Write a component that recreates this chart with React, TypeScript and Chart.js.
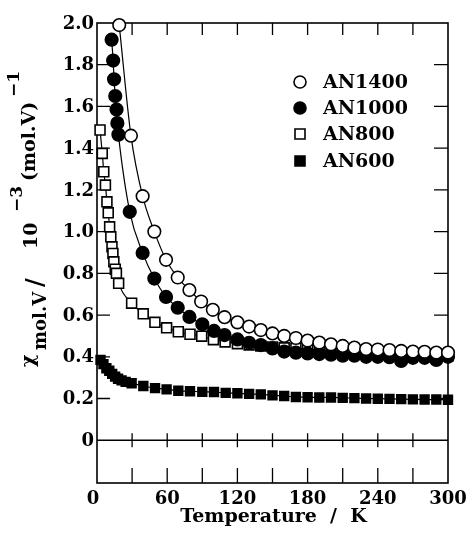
import React, { useEffect, useRef } from "react";
import { Chart, registerables } from "chart.js";

Chart.register(...registerables);

// ---- data ----
const an1400T = [19, 29, 39, 49, 59, 69, 79, 89, 99, 109, 120, 130, 140, 150, 160, 170, 180, 190, 200, 210, 220, 230, 240, 250, 260, 270, 280, 290, 300];
const an1400V = [1.99, 1.46, 1.17, 1.0, 0.865, 0.78, 0.72, 0.665, 0.625, 0.59, 0.565, 0.545, 0.528, 0.512, 0.5, 0.49, 0.478, 0.468, 0.46, 0.452, 0.444, 0.437, 0.435, 0.432, 0.428, 0.425, 0.424, 0.42, 0.42];

const an1000T = [12.5, 13.8, 14.6, 15.6, 16.7, 17.4, 18.3, 28, 39, 49, 59, 69, 79, 90, 100, 109, 120, 130, 140, 150, 160, 170, 180, 190, 200, 210, 220, 230, 240, 250, 260, 270, 280, 290, 300];
const an1000V = [1.92, 1.82, 1.73, 1.65, 1.585, 1.52, 1.465, 1.095, 0.898, 0.775, 0.687, 0.635, 0.591, 0.556, 0.524, 0.504, 0.483, 0.467, 0.456, 0.44, 0.425, 0.42, 0.416, 0.413, 0.41, 0.405, 0.405, 0.4, 0.4, 0.398, 0.38, 0.395, 0.395, 0.385, 0.4];

const an800T = [2.6, 4.5, 5.8, 7.2, 8.5, 9.6, 10.8, 11.8, 12.8, 13.6, 14.4, 15.6, 16.6, 18.5, 29.6, 39.5, 49.5, 59.5, 69.5, 79.5, 89.5, 99.5, 109.5, 120, 130, 140, 150, 160, 170, 180, 190, 200, 210, 220, 230, 240, 250, 260, 270, 280, 290, 300];
const an800V = [1.487, 1.375, 1.287, 1.223, 1.143, 1.09, 1.023, 0.975, 0.927, 0.895, 0.855, 0.82, 0.8, 0.752, 0.657, 0.606, 0.565, 0.539, 0.52, 0.508, 0.499, 0.482, 0.471, 0.463, 0.457, 0.452, 0.447, 0.443, 0.44, 0.436, 0.432, 0.428, 0.425, 0.422, 0.42, 0.418, 0.415, 0.413, 0.41, 0.41, 0.408, 0.405];

const an600T = [3, 5.5, 8, 10.5, 13, 15.5, 18, 21, 24.5, 29.6, 39.6, 49.6, 59.5, 69.5, 79.5, 90, 100, 110, 120, 130, 140, 150, 160, 170, 180, 190, 200, 210, 220, 230, 240, 250, 260, 270, 280, 290, 300];
const an600V = [0.385, 0.365, 0.345, 0.333, 0.318, 0.305, 0.295, 0.287, 0.28, 0.273, 0.26, 0.25, 0.244, 0.237, 0.235, 0.232, 0.231, 0.227, 0.225, 0.222, 0.22, 0.215, 0.212, 0.207, 0.206, 0.205, 0.205, 0.203, 0.202, 0.2, 0.199, 0.198, 0.197, 0.196, 0.195, 0.195, 0.194];

const seriesNames = ["AN1400", "AN1000", "AN800", "AN600"];

const xTickValues = [0, 30, 60, 90, 120, 150, 180, 210, 240, 270, 300];
const xLabelValues = [0, 60, 120, 180, 240, 300];
const yTickValues = [0, 0.2, 0.4, 0.6, 0.8, 1.0, 1.2, 1.4, 1.6, 1.8, 2.0];
const yTickLabels = ["0", "0.2", "0.4", "0.6", "0.8", "1.0", "1.2", "1.4", "1.6", "1.8", "2.0"];

const xTitle = "Temperature  /  K";

const FONT = '"DejaVu Serif", "Liberation Serif", serif';
const font = (s: number) => `bold ${s}px ${FONT}`;

const pts = (t: number[], v: number[]) => t.map((x, i) => ({ x, y: v[i] }));

const styles = [
  { pointStyle: "circle", bg: "#ffffff", radius: 6.3 },
  { pointStyle: "circle", bg: "#000000", radius: 6.3 },
  { pointStyle: "rect", bg: "#ffffff", radius: 7 },
  { pointStyle: "rect", bg: "#000000", radius: 6.2 },
];

const framePlugin = {
  id: "frame",
  beforeDatasetsDraw(chart: any) {
    const { ctx, chartArea: a, scales } = chart;
    const xs = scales.x, ys = scales.y;
    ctx.save();
    ctx.strokeStyle = "#000";
    ctx.lineWidth = 1.6;
    ctx.strokeRect(a.left, a.top, a.right - a.left, a.bottom - a.top);
    const y0 = ys.getPixelForValue(0);
    ctx.beginPath();
    ctx.moveTo(a.left, y0);
    ctx.lineTo(a.right, y0);
    ctx.stroke();
    ctx.lineWidth = 1.3;
    ctx.beginPath();
    xTickValues.forEach((v) => {
      if (v === 0 || v === 300) return;
      const px = xs.getPixelForValue(v);
      ctx.moveTo(px, a.top); ctx.lineTo(px, a.top + 12);
      ctx.moveTo(px, a.bottom); ctx.lineTo(px, a.bottom - 15);
      ctx.moveTo(px, y0 - 7); ctx.lineTo(px, y0 + 7);
    });
    yTickValues.forEach((v) => {
      if (v === 0 || v === 2.0) return;
      const py = ys.getPixelForValue(v);
      ctx.moveTo(a.left, py); ctx.lineTo(a.left + 13, py);
      ctx.moveTo(a.right, py); ctx.lineTo(a.right - 14, py);
    });
    ctx.stroke();
    ctx.restore();
  },
  afterDraw(chart: any) {
    const { ctx, chartArea: a, scales } = chart;
    const xs = scales.x, ys = scales.y;
    ctx.save();
    ctx.fillStyle = "#000";
    // y tick labels
    ctx.font = font(18);
    ctx.textAlign = "right";
    ctx.textBaseline = "middle";
    yTickValues.forEach((v, i) => {
      ctx.fillText(yTickLabels[i], a.left - 3, ys.getPixelForValue(v) + 1);
    });
    // x tick labels
    ctx.textAlign = "center";
    xLabelValues.forEach((v) => {
      const dx = v === 0 ? -4 : 0;
      ctx.fillText(String(v), xs.getPixelForValue(v) + dx, a.bottom + 16);
    });
    // x title
    ctx.font = font(19);
    ctx.fillText(xTitle, (a.left + a.right) / 2 + 1, a.bottom + 34);

    // y title (rotated, with sub/superscripts)
    const segs = [
      { t: "χ", s: 367, b: 34, f: 19 },
      { t: "mol.V", s: 350, b: 46, f: 18 },
      { t: "/", s: 287, b: 43, f: 24 },
      { t: "10", s: 249, b: 37, f: 19 },
      { t: "−3", s: 212, b: 22, f: 17 },
      { t: "(mol.V)", s: 181, b: 35, f: 19 },
      { t: "−1", s: 97, b: 19, f: 17 },
    ];
    ctx.save();
    ctx.rotate(-Math.PI / 2);
    ctx.textAlign = "left";
    ctx.textBaseline = "alphabetic";
    segs.forEach((g) => {
      ctx.font = font(g.f);
      ctx.fillText(g.t, -g.s, g.b);
    });
    ctx.restore();

    // legend
    const rows = [82, 108, 134, 161];
    ctx.textAlign = "left";
    ctx.textBaseline = "middle";
    ctx.font = font(19);
    rows.forEach((ry, i) => {
      const mx = 300;
      ctx.lineWidth = 1.6;
      ctx.strokeStyle = "#000";
      ctx.fillStyle = styles[i].bg;
      ctx.beginPath();
      if (styles[i].pointStyle === "circle") {
        ctx.arc(mx, ry, 6, 0, Math.PI * 2);
      } else {
        ctx.rect(mx - 5, ry - 5, 10, 10);
      }
      ctx.fill();
      ctx.stroke();
      ctx.fillStyle = "#000";
      ctx.fillText(seriesNames[i], 323, ry + 1);
    });
    ctx.restore();
  },
};

export default function App() {
  const ref = useRef<HTMLCanvasElement | null>(null);
  useEffect(() => {
    if (!ref.current) return;
    const data = [
      pts(an1400T, an1400V),
      pts(an1000T, an1000V),
      pts(an800T, an800V),
      pts(an600T, an600V),
    ];
    const chart = new Chart(ref.current, {
      type: "line",
      data: {
        datasets: data.map((d, i) => ({
          label: seriesNames[i],
          data: d,
          borderColor: "#000",
          borderWidth: 1.2,
          pointStyle: styles[i].pointStyle as any,
          pointRadius: styles[i].radius,
          pointBackgroundColor: styles[i].bg,
          pointBorderColor: "#000",
          pointBorderWidth: 1.6,
          cubicInterpolationMode: "monotone" as const,
          fill: false,
          clip: false as any,
        })),
      },
      options: {
        responsive: false,
        animation: false,
        layout: { padding: { left: 97, top: 23, right: 20, bottom: 58 } },
        plugins: { legend: { display: false }, tooltip: { enabled: false }, title: { display: false } },
        scales: {
          x: { type: "linear", min: 0, max: 300, display: false },
          y: { type: "linear", min: -0.205, max: 2.0, display: false },
        },
      },
      plugins: [framePlugin],
    });
    return () => chart.destroy();
  }, []);
  return (
    <div style={{ position: "fixed", left: 0, top: 0, width: 468, height: 541, background: "#fff" }}>
      <canvas ref={ref} width={468} height={541} style={{ width: 468, height: 541, display: "block" }} />
    </div>
  );
}
